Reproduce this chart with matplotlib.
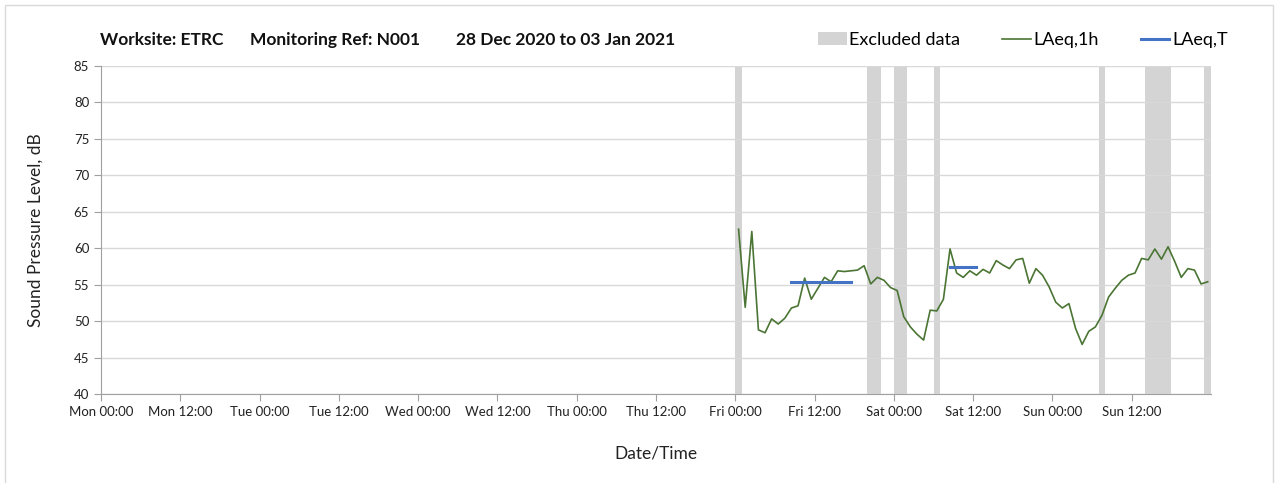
import numpy as np
import matplotlib.pyplot as plt
from matplotlib.patches import Patch, Rectangle
from matplotlib.lines import Line2D

plt.rcParams['font.family'] = ['Lato', 'DejaVu Sans']

# x axis in hours from Mon 00:00
tick_labels = ['Mon 00:00', 'Mon 12:00', 'Tue 00:00', 'Tue 12:00', 'Wed 00:00', 'Wed 12:00',
               'Thu 00:00', 'Thu 12:00', 'Fri 00:00', 'Fri 12:00', 'Sat 00:00', 'Sat 12:00',
               'Sun 00:00', 'Sun 12:00']

# hourly LAeq,1h from Fri 00:00 to Sun 23:00 (plotted at mid-hour)
data_start = 96
laeq_1h = [62.6, 51.9, 62.3, 48.8, 48.4, 50.3, 49.6, 50.4, 51.8, 52.1, 55.9, 53.0,
           54.5, 56.0, 55.4, 56.9, 56.8, 56.9, 57.0, 57.6, 55.1, 56.0, 55.6, 54.6,
           54.2, 50.6, 49.2, 48.2, 47.4, 51.5, 51.4, 53.0, 59.9, 56.6, 56.0, 56.9,
           56.3, 57.1, 56.6, 58.3, 57.7, 57.2, 58.4, 58.6, 55.2, 57.2, 56.3, 54.7,
           52.6, 51.8, 52.4, 49.0, 46.8, 48.6, 49.2, 50.8, 53.3, 54.5, 55.6, 56.3,
           56.6, 58.6, 58.4, 59.9, 58.5, 60.2, 58.2, 56.0, 57.2, 57.0, 55.1, 55.4]

# LAeq,T periods (start hour, end hour, level)
laeq_t_start = [104.5, 128.5]
laeq_t_end = [113.5, 132.5]
laeq_t_level = [55.3, 57.4]

# excluded data periods (start hour, end hour)
excl_start = [96, 116, 120, 126, 151, 158, 167]
excl_end = [97, 118, 122, 127, 152, 162, 168]

title_parts = ['Worksite: ETRC', 'Monitoring Ref: N001', '28 Dec 2020 to 03 Jan 2021']

green = '#4b7534'
blue = '#4472c4'
grey = '#d4d4d4'

fig = plt.figure(figsize=(12.82, 4.83), dpi=100)
ax = fig.add_axes([101/1282, 1-394/483, 1110/1282, 328/483])

for s, e in zip(excl_start, excl_end):
    ax.axvspan(s, e, color=grey, lw=0, zorder=1)

hours = data_start + np.arange(len(laeq_1h)) + 0.5
ax.plot(hours, laeq_1h, color=green, lw=1.2, zorder=3)
for s, e, v in zip(laeq_t_start, laeq_t_end, laeq_t_level):
    ax.plot([s, e], [v, v], color=blue, lw=2.2, zorder=4)

ax.set_xlim(0, 168)
ax.set_ylim(40, 85)
ax.set_yticks(np.arange(40, 86, 5))
ax.set_xticks(np.arange(0, 168, 12))
ax.set_xticklabels(tick_labels)
ax.set_xticks(np.arange(0, 169, 24), minor=True)
ax.grid(axis='y', color='#d9d9d9', lw=1, zorder=0)
ax.grid(axis='x', which='minor', color='#d9d9d9', lw=1, zorder=0)
ax.tick_params(axis='x', which='minor', length=0)
ax.tick_params(axis='both', which='major', labelsize=9.5, color='#a0a0a0', length=5, labelcolor='#222222')

for sp in ['top', 'right']:
    ax.spines[sp].set_visible(False)
for sp in ['left', 'bottom']:
    ax.spines[sp].set_color('#a0a0a0')

ax.set_ylabel('Sound Pressure Level, dB', fontsize=12.5, color='#222222', labelpad=22)
ax.set_xlabel('Date/Time', fontsize=12.5, color='#222222', labelpad=20)

for x, t in zip([100, 250, 456], title_parts):
    fig.text(x/1282, 1-40/483, t, fontsize=12.5, fontweight='bold', va='center', ha='left', color='#111111')

handles = [Patch(facecolor=grey, edgecolor='none'),
           Line2D([], [], color=green, lw=1.2),
           Line2D([], [], color=blue, lw=2.2)]
fig.legend(handles, ['Excluded data', 'LAeq,1h', 'LAeq,T'], ncol=3, frameon=False,
           loc='center right', bbox_to_anchor=(1244/1282, 1-40/483), fontsize=13,
           handlelength=1.6, handletextpad=0.15, columnspacing=2.3)

fig.patches.append(Rectangle((5/1282, -0.02), 1268/1282, 1.02 - 5/483, transform=fig.transFigure,
                             fill=False, edgecolor='#d9d9d9', lw=1))

fig.savefig('out.png', dpi=100)
